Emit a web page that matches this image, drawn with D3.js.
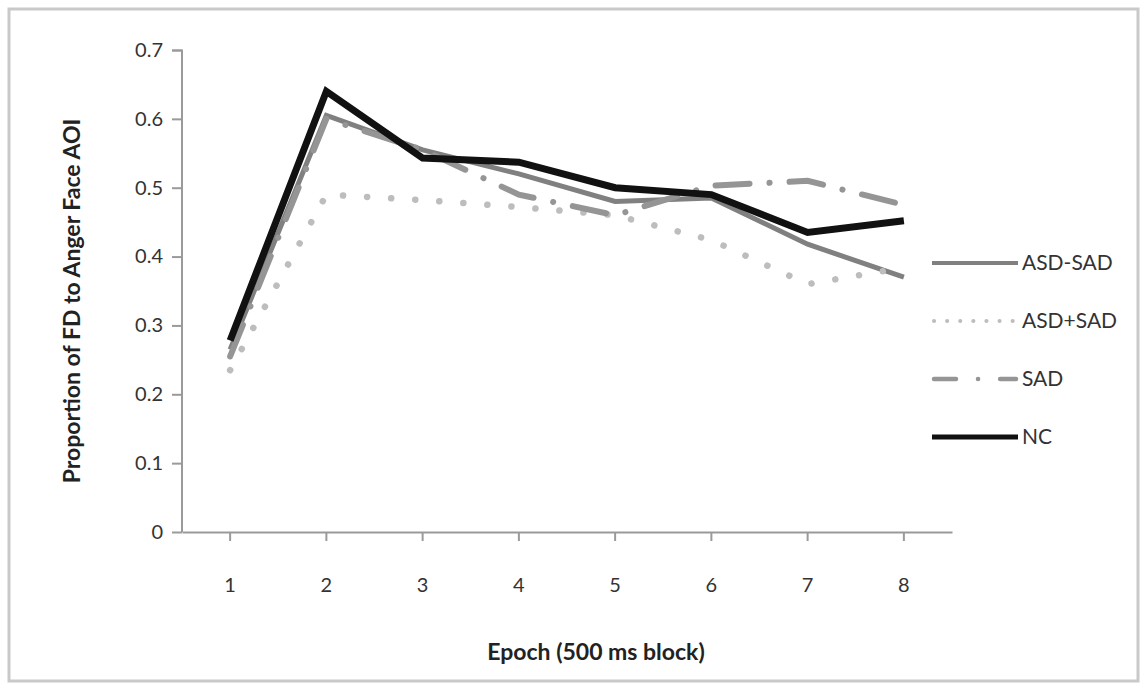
<!DOCTYPE html>
<html>
<head>
<meta charset="utf-8">
<script src="https://cdn.jsdelivr.net/npm/d3@7"></script>
<style>
  body { margin: 0; background: #fff; }
  svg { display: block; font-family: Lato, "Open Sans", sans-serif; }
</style>
</head>
<body>
<svg width="1147" height="692"></svg>
<script>
var epochs = [1, 2, 3, 4, 5, 6, 7, 8];
var asdMinusSad = [0.265, 0.605, 0.555, 0.52, 0.48, 0.485, 0.418, 0.37];
var asdPlusSad = [0.235, 0.49, 0.482, 0.472, 0.46, 0.424, 0.36, 0.384];
var sad = [0.255, 0.60, 0.555, 0.49, 0.46, 0.503, 0.51, 0.475];
var nc = [0.278, 0.64, 0.543, 0.537, 0.50, 0.49, 0.435, 0.452];
var yTicks = [0, 0.1, 0.2, 0.3, 0.4, 0.5, 0.6, 0.7];

var series = [
  { name: "ASD-SAD", values: asdMinusSad, color: "#808080", width: 5, dash: null,
    lDash: null, lWidth: 4, cap: "butt" },
  { name: "ASD+SAD", values: asdPlusSad, color: "#bdbdbd", width: 6.5, dash: "0.1,24",
    lDash: "0.1,13", lWidth: 4, cap: "round" },
  { name: "SAD", values: sad, color: "#959595", width: 6, dash: "34,20,0.1,20",
    lDash: "22,22,0.1,22", lWidth: 4.5, cap: "round" },
  { name: "NC", values: nc, color: "#111111", width: 7, dash: null,
    lDash: null, lWidth: 5, cap: "butt" }
];

var svg = d3.select("svg");

// outer frame
svg.append("rect")
    .attr("x", 9).attr("y", 9)
    .attr("width", 1129).attr("height", 672)
    .attr("fill", "none")
    .attr("stroke", "#c9c9c9")
    .attr("stroke-width", 3);

var x = d3.scaleBand()
    .domain(epochs)
    .range([182, 952]);

var y = d3.scaleLinear()
    .domain([0, 0.7])
    .range([532, 50]);

var yAxis = svg.append("g")
    .attr("transform", "translate(182,0)")
    .call(d3.axisLeft(y).tickValues(yTicks).tickSize(10).tickPadding(9)
        .tickFormat(function (d) { return d === 0 ? "0" : d3.format(".1f")(d); }));

var xAxis = svg.append("g")
    .attr("transform", "translate(0,532)")
    .call(d3.axisBottom(x).tickSize(9).tickPadding(37).tickSizeOuter(0));

[xAxis, yAxis].forEach(function (g) {
  g.selectAll(".domain").attr("stroke", "#9a9a9a").attr("stroke-width", 2);
  g.selectAll(".tick line").attr("stroke", "#9a9a9a").attr("stroke-width", 2);
  g.selectAll(".tick text")
      .attr("fill", "#333")
      .style("font-size", "20px")
      .style("font-family", "Lato, 'Open Sans', sans-serif");
});
yAxis.select(".domain").attr("d", "M-10,50.5H0V532");

var line = d3.line()
    .x(function (d, i) { return x(epochs[i]) + x.bandwidth() / 2; })
    .y(function (d) { return y(d); });

svg.append("g").selectAll("path")
    .data(series)
    .enter().append("path")
    .attr("d", function (d) { return line(d.values); })
    .attr("fill", "none")
    .attr("stroke", function (d) { return d.color; })
    .attr("stroke-width", function (d) { return d.width; })
    .attr("stroke-dasharray", function (d) { return d.dash; })
    .attr("stroke-linecap", function (d) { return d.cap; })
    .attr("stroke-linejoin", "miter");

// legend
var legend = svg.append("g").selectAll("g")
    .data(series)
    .enter().append("g")
    .attr("transform", function (d, i) { return "translate(932," + (263 + i * 58) + ")"; });

legend.append("line")
    .attr("x1", function (d) { return d.cap === "round" ? 2 : 0; })
    .attr("x2", function (d) { return d.cap === "round" ? 84 : 86; })
    .attr("stroke", function (d) { return d.color; })
    .attr("stroke-width", function (d) { return d.lWidth; })
    .attr("stroke-dasharray", function (d) { return d.lDash; })
    .attr("stroke-linecap", function (d) { return d.cap; });

legend.append("text")
    .attr("x", 90)
    .attr("y", 7)
    .attr("fill", "#333")
    .style("font-size", "21px")
    .text(function (d) { return d.name; });

// axis titles
svg.append("text")
    .attr("x", 596).attr("y", 660)
    .attr("text-anchor", "middle")
    .attr("fill", "#222")
    .style("font-size", "23px")
    .style("font-weight", "bold")
    .text("Epoch (500 ms block)");

svg.append("text")
    .attr("transform", "translate(80,301) rotate(-90)")
    .attr("text-anchor", "middle")
    .attr("fill", "#222")
    .style("font-size", "23px")
    .style("font-weight", "bold")
    .text("Proportion of FD to Anger Face AOI");
</script>
</body>
</html>
